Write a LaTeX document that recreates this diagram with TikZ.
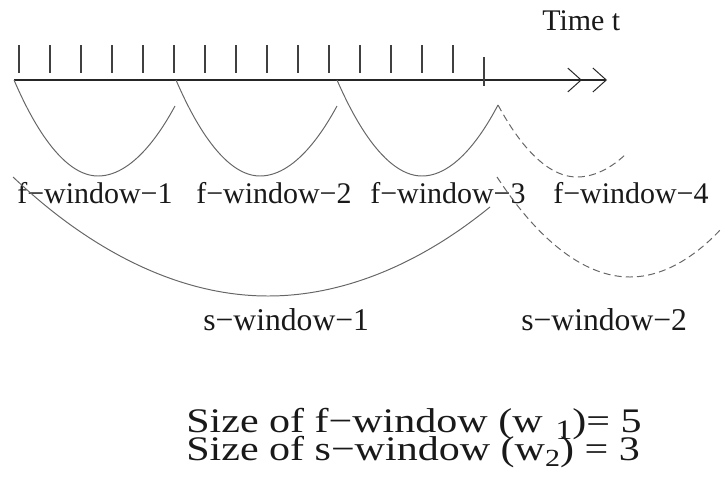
\documentclass[tikz,border=0pt]{standalone}
\usepackage{fontspec}
\setmainfont{Liberation Serif}
\usetikzlibrary{arrows.meta}

\begin{document}
\begin{tikzpicture}[x=0.025cm, y=-0.025cm,
  lbl/.style={font=\fontsize{21.3}{24}\selectfont, anchor=base west, inner sep=0pt, text=black!90},
  slbl/.style={lbl, font=\fontsize{22.5}{26}\selectfont},
  info/.style={font=\fontsize{24.5}{28}\selectfont, align=left, anchor=base west, inner sep=0pt, text=black!90},
  tick/.style={line width=1pt, black!75},
  win/.style={line width=0.7pt, black!60},
  nextwin/.style={win, dashed, dash pattern=on 5pt off 3pt}]
  \useasboundingbox (0,0) rectangle (722,482);
  % time axis
  \coordinate (t0) at (14,80);
  \coordinate (tend) at (607,80);
  \draw[line width=2.1pt, black!85,
    -{Straight Barb[length=9.5pt,width=17pt,line width'=0.7pt,sep=7.5pt]Straight Barb[length=9.5pt,width=17pt,line width'=0.7pt]}]
    (t0) -- (tend);
  \foreach \k in {0,...,14}
    \draw[tick] (19+31*\k,45) -- (19+31*\k,73);
  \draw[tick] (484,57) -- (484,86);
  \node[lbl] (time) at (542,30) {Time t};
  % f-windows
  \draw[win] (t0) parabola bend (98,176) (175,106);
  \draw[win] (176,80) parabola bend (260,176) (337,106);
  \draw[win] (337,80) parabola bend (422,176) (498,105);
  \draw[nextwin] (498,105) parabola bend (577,177) (627,153);
  \node[lbl] (f1) at (17,203)  {f−window−1};
  \node[lbl] (f2) at (196,203) {f−window−2};
  \node[lbl] (f3) at (370,203) {f−window−3};
  \node[lbl] (f4) at (553,203) {f−window−4};
  % s-windows
  \draw[win] (13,177) parabola bend (268,296) (490,207);
  \draw[nextwin] (497,177) parabola bend (630,277) (722,228);
  \node[slbl] (s1) at (203,330) {s−window−1};
  \node[slbl] (s2) at (521,330) {s−window−2};
  % sizes
  \node[info] (sizes) at (186,460) {\scalebox{1.22}[1]{Size of f−window (w\hspace{0.3em}\raisebox{-0.22em}{\fontsize{20}{20}\selectfont 1})= 5}\\[-8.1pt]
    \scalebox{1.22}[1]{Size of s−window (w\raisebox{-0.2em}{\fontsize{17.5}{17.5}\selectfont 2}) = 3}};
\end{tikzpicture}
\end{document}
